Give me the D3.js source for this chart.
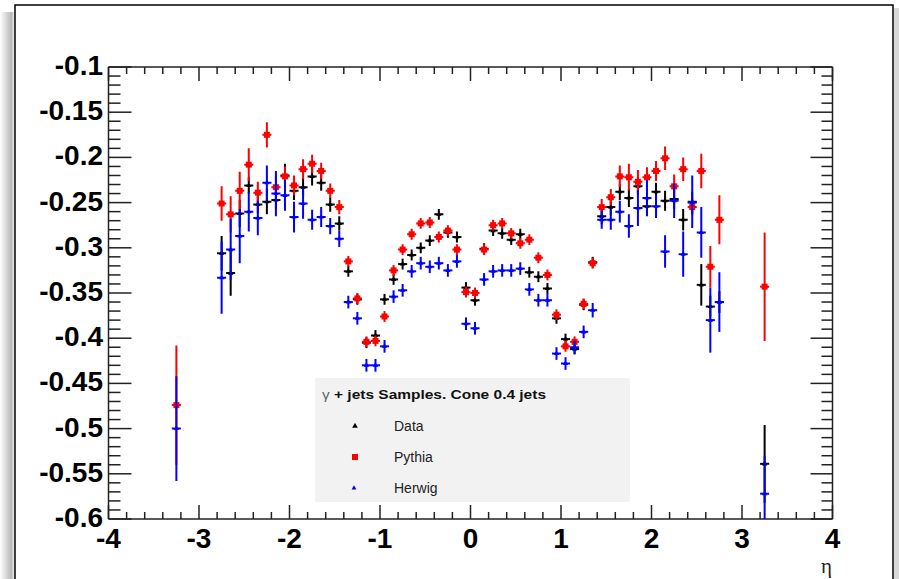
<!DOCTYPE html>
<meta charset="utf-8">
<style>
body { margin: 0; background: #fff; }
text { font-family: "Liberation Sans", Arial, Helvetica, sans-serif; }
.lab { font-size: 28px; font-weight: bold; fill: #000; }
.axis line { stroke: #222; stroke-width: 1.5px; }
</style>
<svg width="899" height="579"></svg>
<script src="https://d3js.org/d3.v7.min.js"></script>
<script>

// eta bin centres
var etaBins = [-3.25, -2.75, -2.65, -2.55, -2.45, -2.35, -2.25, -2.15, -2.05, -1.95, -1.85,
  -1.75, -1.65, -1.55, -1.45, -1.35, -1.25, -1.15, -1.05, -0.95, -0.85, -0.75, -0.65, -0.55,
  -0.45, -0.35, -0.25, -0.15, -0.05, 0.05, 0.15, 0.25, 0.35, 0.45, 0.55, 0.65, 0.75, 0.85,
  0.95, 1.05, 1.15, 1.25, 1.35, 1.45, 1.55, 1.65, 1.75, 1.85, 1.95, 2.05, 2.15, 2.25, 2.35,
  2.45, 2.55, 2.65, 2.75, 3.25];

var dataVals = [null, -0.306, -0.328, -0.262, -0.231, -0.252, -0.249, -0.247, -0.220, -0.237, -0.233,
  -0.221, -0.228, -0.252, -0.273, -0.326, -0.357, -0.405, -0.397, -0.357, -0.335, -0.318, -0.308, -0.300,
  -0.292, -0.263, -0.283, -0.288, -0.344, -0.358, -0.301, -0.281, -0.284, -0.291, -0.285, -0.327, -0.332, -0.345,
  -0.378, -0.401, -0.412, -0.363, -0.316, -0.265, -0.255, -0.238, -0.245, -0.232, -0.254, -0.238, -0.248, -0.246, -0.269,
  -0.250, -0.341, -0.365, -0.360, -0.539];
var dataErr = [null, 0.019, 0.025, 0.015, 0.009, 0.010, 0.014, 0.010, 0.013, 0.010, 0.010,
  0.010, 0.009, 0.008, 0.008, 0.006, 0.006, 0.006, 0.006, 0.006, 0.006, 0.006, 0.006, 0.006,
  0.006, 0.006, 0.006, 0.006, 0.006, 0.006, 0.006, 0.006, 0.006, 0.006, 0.006, 0.006, 0.006, 0.006,
  0.006, 0.006, 0.006, 0.006, 0.006, 0.009, 0.009, 0.009, 0.010, 0.010, 0.010, 0.010, 0.011, 0.011, 0.012,
  0.012, 0.023, 0.012, 0.012, 0.043];

var pythiaVals = [-0.474, -0.251, -0.263, -0.237, -0.208, -0.239, -0.175, -0.233, -0.221, -0.231, -0.213,
  -0.207, -0.215, -0.237, -0.255, -0.315, -0.356, -0.404, -0.403, -0.376, -0.325, -0.302, -0.285, -0.273,
  -0.272, -0.288, -0.281, -0.302, -0.349, -0.350, -0.302, -0.275, -0.273, -0.284, -0.295, -0.291, -0.311, -0.330,
  -0.374, -0.409, -0.404, -0.362, -0.317, -0.255, -0.244, -0.221, -0.222, -0.227, -0.222, -0.215, -0.201, -0.232, -0.213,
  -0.255, -0.215, -0.321, -0.269, -0.343];
var pythiaErr = [0.066, 0.019, 0.020, 0.021, 0.018, 0.012, 0.014, 0.013, 0.011, 0.011, 0.011,
  0.010, 0.009, 0.008, 0.008, 0.006, 0.006, 0.006, 0.006, 0.006, 0.006, 0.006, 0.006, 0.006,
  0.006, 0.006, 0.006, 0.006, 0.006, 0.006, 0.006, 0.006, 0.006, 0.006, 0.006, 0.006, 0.006, 0.006,
  0.006, 0.006, 0.006, 0.006, 0.006, 0.009, 0.009, 0.012, 0.015, 0.013, 0.011, 0.011, 0.013, 0.013, 0.013,
  0.009, 0.019, 0.023, 0.027, 0.060];

var herwigVals = [-0.500, -0.333, -0.302, -0.287, -0.260, -0.267, -0.228, -0.240, -0.242, -0.266, -0.251,
  -0.269, -0.266, -0.276, -0.290, -0.360, -0.378, -0.430, -0.430, -0.409, -0.354, -0.347, -0.326, -0.317,
  -0.321, -0.317, -0.325, -0.315, -0.384, -0.389, -0.335, -0.326, -0.325, -0.325, -0.323, -0.346, -0.358, -0.358,
  -0.417, -0.428, -0.410, -0.393, -0.369, -0.269, -0.269, -0.260, -0.276, -0.256, -0.245, -0.254, -0.304, -0.248, -0.307,
  -0.249, -0.283, -0.380, -0.360, -0.572];
var herwigErr = [0.058, 0.040, 0.034, 0.030, 0.022, 0.019, 0.019, 0.025, 0.017, 0.017, 0.017,
  0.011, 0.011, 0.009, 0.009, 0.007, 0.007, 0.007, 0.007, 0.007, 0.007, 0.007, 0.007, 0.007,
  0.007, 0.007, 0.007, 0.007, 0.007, 0.007, 0.007, 0.007, 0.007, 0.007, 0.007, 0.007, 0.007, 0.007,
  0.007, 0.007, 0.007, 0.007, 0.008, 0.010, 0.011, 0.012, 0.013, 0.020, 0.020, 0.013, 0.018, 0.019, 0.025,
  0.029, 0.028, 0.036, 0.033, 0.042];

var binHalf = 0.05;

var xTickVals = [-4, -3, -2, -1, 0, 1, 2, 3, 4];
var xTickLabels = ["-4", "-3", "-2", "-1", "0", "1", "2", "3", "4"];
var yTickVals = [-0.1, -0.15, -0.2, -0.25, -0.3, -0.35, -0.4, -0.45, -0.5, -0.55, -0.6];
var yTickLabels = ["-0.1", "-0.15", "-0.2", "-0.25", "-0.3", "-0.35", "-0.4", "-0.45", "-0.5", "-0.55", "-0.6"];

var seriesNames = ["Data", "Pythia", "Herwig"];
var seriesColors = ["#000000", "#ff0000", "#0000ff"];
var legendTitle = "\u03b3 + jets Samples. Cone 0.4 jets";

var svg = d3.select("svg");

// canvas frame with shadow on the left
var defs = svg.append("defs");
var grad = defs.append("linearGradient").attr("id", "shade");
grad.append("stop").attr("offset", "0%").attr("stop-color", "#fff");
grad.append("stop").attr("offset", "80%").attr("stop-color", "#b8b8b8");
grad.append("stop").attr("offset", "100%").attr("stop-color", "#e8e8e8");
svg.append("rect").attr("x", 0).attr("y", 12).attr("width", 14).attr("height", 579)
    .attr("fill", "url(#shade)");
svg.append("rect").attr("x", 894).attr("y", 8).attr("width", 5).attr("height", 579)
    .attr("fill", "#d8d8d8");
svg.append("rect").attr("x", 15).attr("y", 5).attr("width", 878).attr("height", 600)
    .attr("fill", "#fff").attr("stroke", "#000").attr("stroke-width", 1.5);

var x = d3.scaleLinear().domain([-4, 4]).range([108.5, 832.5]);
var y = d3.scaleLinear().domain([-0.6, -0.1]).range([519, 67]);

defs.append("clipPath").attr("id", "plotclip")
  .append("rect").attr("x", x(-4)).attr("y", y(-0.1))
    .attr("width", x(4) - x(-4)).attr("height", y(-0.6) - y(-0.1));

// legend box (drawn under the points)
var leg = svg.append("g");
leg.append("rect").attr("x", 315).attr("y", 378).attr("width", 315).attr("height", 124)
    .attr("fill", "#f2f2f2");
var title = leg.append("text").attr("x", 322).attr("y", 399)
    .attr("textLength", 224).attr("lengthAdjust", "spacingAndGlyphs")
    .style("font-size", "13px").style("font-weight", "bold").attr("fill", "#111");
title.append("tspan").attr("fill", "#666").style("font-weight", "normal").text(legendTitle.slice(0, 1));
title.append("tspan").text(legendTitle.slice(1));

var legY = [426, 457, 488];
seriesNames.forEach(function(name, i) {
  leg.append("text").attr("x", 394).attr("y", legY[i] + 5)
      .style("font-size", "14px").attr("fill", "#222").text(name);
});
leg.append("path").attr("d", d3.symbol(d3.symbolTriangle, 14)())
    .attr("transform", "translate(355," + legY[0] + ")").attr("fill", seriesColors[0]);
leg.append("rect").attr("x", 352).attr("y", legY[1] - 3).attr("width", 6).attr("height", 6)
    .attr("fill", seriesColors[1]);
leg.append("path").attr("d", d3.symbol(d3.symbolTriangle, 10)())
    .attr("transform", "translate(354," + legY[2] + ")").attr("fill", seriesColors[2]);

// axes
var axes = svg.append("g").attr("class", "axis");
var x0 = x(-4), x1 = x(4), y0 = y(-0.6), y1 = y(-0.1);
axes.append("line").attr("x1", x0).attr("x2", x1).attr("y1", y0).attr("y2", y0);
axes.append("line").attr("x1", x0).attr("x2", x1).attr("y1", y1).attr("y2", y1);
axes.append("line").attr("x1", x0).attr("x2", x0).attr("y1", y0).attr("y2", y1);
axes.append("line").attr("x1", x1).attr("x2", x1).attr("y1", y0).attr("y2", y1);

var isMajorX = function(v) { return Math.abs(v - Math.round(v)) < 1e-6; };
x.ticks(40).forEach(function(v) {
  var len = isMajorX(v) ? 14 : 7;
  axes.append("line").attr("x1", x(v)).attr("x2", x(v)).attr("y1", y0).attr("y2", y0 - len);
  axes.append("line").attr("x1", x(v)).attr("x2", x(v)).attr("y1", y1).attr("y2", y1 + len);
});
var isMajorY = function(v) { return Math.abs(v * 20 - Math.round(v * 20)) < 1e-6; };
y.ticks(50).forEach(function(v) {
  var maj = isMajorY(v);
  axes.append("line").attr("x1", x0).attr("x2", x0 + (maj ? 23 : 12)).attr("y1", y(v)).attr("y2", y(v));
  axes.append("line").attr("x1", x1).attr("x2", x1 - (maj ? 22 : 11)).attr("y1", y(v)).attr("y2", y(v));
});

xTickVals.forEach(function(v, i) {
  svg.append("text").attr("class", "lab").attr("x", x(v)).attr("y", 548)
      .attr("text-anchor", "middle").text(xTickLabels[i]);
});
yTickVals.forEach(function(v, i) {
  svg.append("text").attr("class", "lab").attr("x", 103).attr("y", y(v) + 8)
      .attr("text-anchor", "end").text(yTickLabels[i]);
});
svg.append("text").attr("x", 832).attr("y", 573).attr("text-anchor", "end")
    .style("font-family", "'Liberation Serif', serif").style("font-size", "21px").attr("fill", "#222")
    .text("\u03b7");

// points with error bars
var plot = svg.append("g").attr("clip-path", "url(#plotclip)");
var series = [
  { vals: dataVals, errs: dataErr, color: seriesColors[0], marker: "tri" },
  { vals: pythiaVals, errs: pythiaErr, color: seriesColors[1], marker: "sq" },
  { vals: herwigVals, errs: herwigErr, color: seriesColors[2], marker: "tri" }
];
series.forEach(function(s) {
  var pts = etaBins.map(function(e, i) { return { eta: e, v: s.vals[i], err: s.errs[i] }; })
      .filter(function(d) { return d.v !== null; });
  var g = plot.append("g");
  g.selectAll("line.h").data(pts).enter().append("line")
      .attr("x1", function(d) { return x(d.eta - binHalf); })
      .attr("x2", function(d) { return x(d.eta + binHalf); })
      .attr("y1", function(d) { return y(d.v); })
      .attr("y2", function(d) { return y(d.v); })
      .attr("stroke", s.color).attr("stroke-width", 2);
  g.selectAll("line.v").data(pts).enter().append("line")
      .attr("x1", function(d) { return x(d.eta); })
      .attr("x2", function(d) { return x(d.eta); })
      .attr("y1", function(d) { return y(d.v - d.err); })
      .attr("y2", function(d) { return y(d.v + d.err); })
      .attr("stroke", s.color).attr("stroke-width", 2);
  if (s.marker === "sq") {
    g.selectAll("rect").data(pts).enter().append("rect")
        .attr("x", function(d) { return x(d.eta) - 3; })
        .attr("y", function(d) { return y(d.v) - 3; })
        .attr("width", 6).attr("height", 6).attr("fill", s.color);
  } else {
    g.selectAll("path").data(pts).enter().append("path")
        .attr("d", d3.symbol(d3.symbolTriangle, 12)())
        .attr("transform", function(d) { return "translate(" + x(d.eta) + "," + y(d.v) + ")"; })
        .attr("fill", s.color);
  }
});

</script>
